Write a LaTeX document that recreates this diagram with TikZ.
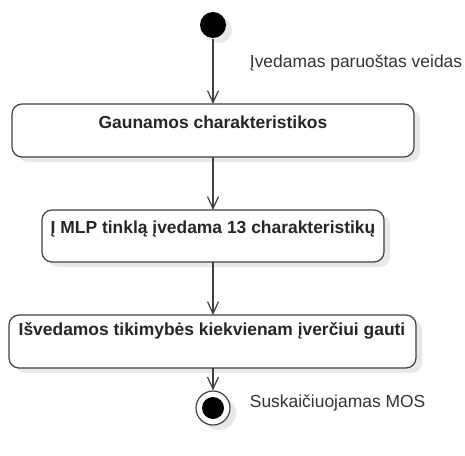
\documentclass[tikz,border=0pt]{standalone}
\usepackage{fontspec}
\setmainfont{Liberation Sans}
\usetikzlibrary{arrows.meta,shadows}
\begin{document}
\begin{tikzpicture}[x=1bp,y=-1bp,
  line width=1.2bp,
  ink/.style={draw=black!75},
  shade/.style={drop shadow={shadow xshift=6bp,shadow yshift=-5bp,fill=black!9,opacity=1}},
  activity/.style={ink,rounded corners=10bp,fill=white,shade},
  caption/.style={font=\bfseries\fontsize{17.5}{20}\selectfont,anchor=center,text=black!85},
  flow/.style={ink,-{Straight Barb[length=12bp,width=11bp,line width=1.2bp]}},
  note/.style={font=\fontsize{17.5}{20}\selectfont,text=black!80,anchor=west}]
\useasboundingbox (0,0) rectangle (465,456);

% initial and final states
\node[circle,fill=black,minimum size=26bp,inner sep=0,shade] (start) at (213,25) {};
\node[circle,ink,fill=white,minimum size=34bp,inner sep=0,shade] (stop) at (213,408) {};
\node[circle,fill=black,minimum size=22bp,inner sep=0] (stopdot) at (213,408) {};

% activities
\path[activity] (12,104) rectangle (414,157);
\coordinate (a1) at (213,104); \coordinate (a1b) at (213,157);
\node[caption] (t1) at (213,122) {Gaunamos charakteristikos};

\path[activity] (42,210) rectangle (384,262);
\coordinate (a2) at (213,210); \coordinate (a2b) at (213,262);
\node[caption] (t2) at (213,229) {Į MLP tinklą įvedama 13 charakteristikų};

\path[activity] (9,315) rectangle (416,368);
\coordinate (a3) at (213,315); \coordinate (a3b) at (213,368);
\node[caption] (t3) at (212,331) {Išvedamos tikimybės kiekvienam įverčiui gauti};

% transitions
\draw[flow] (start) -- (a1);
\draw[flow] (a1b) -- (a2);
\draw[flow] (a2b) -- (a3);
\draw[flow] (a3b) -- (stop);

% transition labels
\node[note] (l1) at (246,63) {Įvedamas paruoštas veidas};
\node[note] (l2) at (246,403) {Suskaičiuojamas MOS};
\end{tikzpicture}
\end{document}
